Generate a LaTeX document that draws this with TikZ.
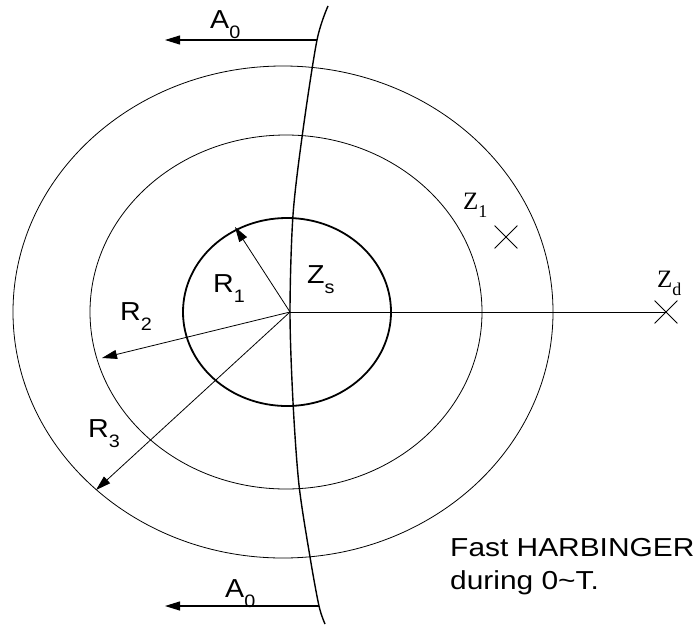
\documentclass[tikz,border=0pt]{standalone}
\usepackage{fontspec}
\setmainfont{Liberation Sans}
\newfontfamily\timesz{Liberation Serif}
\usetikzlibrary{arrows.meta, shapes.misc}
\newcommand{\lowsub}[1]{\raisebox{-0.4em}{\fontsize{18}{18}\selectfont #1}}
\newcommand{\lowsubserif}[1]{\raisebox{-0.35em}{\fontsize{18}{18}\selectfont #1}}
\tikzset{
  every picture/.style={x=1pt, y=-1pt, >={Triangle[length=15pt, width=9pt]}},
  ring/.style={draw, line width=0.8pt},
  core/.style={draw, line width=1.8pt},
  front/.style={draw, line width=1.4pt},
  pull/.style={->, line width=0.8pt},
  lbl/.style={inner sep=0pt, anchor=base west, font=\fontsize{26}{26}\selectfont, xscale=1.1},
  lblserif/.style={inner sep=0pt, anchor=base west, font=\timesz\fontsize{25}{25}\selectfont},
  xmark/.style={draw, cross out, minimum size=22pt, inner sep=0pt, line width=0.8pt},
}
\begin{document}
\begin{tikzpicture}
  \path[use as bounding box, fill=white] (0,0) rectangle (700,624);
  % rings round the source
  \draw[ring] (283,312) ellipse [x radius=270, y radius=246];
  \draw[ring] (286,312) ellipse [x radius=196, y radius=177];
  \draw[core] (287,312) ellipse [x radius=104, y radius=94];
  % front
  \draw[front] plot[smooth] coordinates {(328,6) (317,40) (303,130) (293,215) (290,312)
    (293,402) (299,485) (310,557) (319,606) (325,624)};
  \coordinate (c) at (290,312);
  \coordinate (a0top) at (317,40);
  \coordinate (a0topend) at (165,40);
  \coordinate (a0bot) at (319,606);
  \coordinate (a0botend) at (165,606);
  \coordinate (r1tip) at (235,227);
  \coordinate (r2tip) at (102,358);
  \coordinate (r3tip) at (96,490);
  \node[xmark] (z1) at (506,237) {};
  \node[xmark] (zd) at (666,312) {};
  \draw[ring] (c) -- (zd.center);
  \draw[pull] (c) -- (r1tip);
  \draw[pull] (c) -- (r2tip);
  \draw[pull] (c) -- (r3tip);
  \draw[pull, line width=1.1pt] (a0top) -- (a0topend);
  \draw[pull, line width=1.1pt] (a0bot) -- (a0botend);
  % labels
  \node[lbl] (la0top) at (210,28) {A\lowsub{0}};
  \node[lbl] (la0bot) at (225,597) {A\lowsub{0}};
  \node[lbl] (lr1) at (213,292) {R\lowsub{1}};
  \node[lbl] (lr2) at (120,320) {R\lowsub{2}};
  \node[lbl] (lr3) at (88,437) {R\lowsub{3}};
  \node[lbl] (lzs) at (307,283) {Z\lowsub{s}};
  \node[lblserif] (lz1) at (463,209) {Z\lowsubserif{1}};
  \node[lblserif] (lzd) at (657,287) {Z\lowsubserif{d}};
  \node[inner sep=0pt, anchor=north west, align=left, xscale=1.15,
        font=\fontsize{26}{33}\selectfont] (note) at (450,538)
        {Fast HARBINGER\\during 0\textasciitilde T.};
\end{tikzpicture}
\end{document}
